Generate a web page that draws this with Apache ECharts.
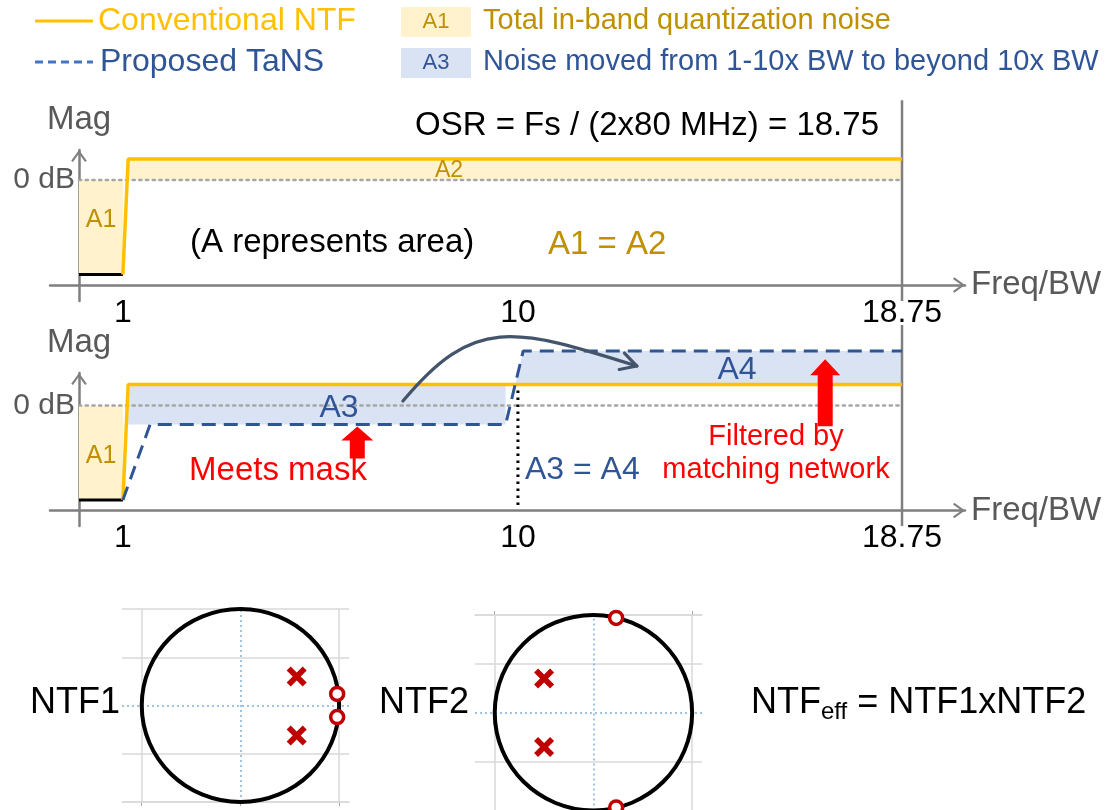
<!DOCTYPE html>
<html>
<head>
<meta charset="utf-8">
<script src="https://cdn.jsdelivr.net/npm/echarts@6/dist/echarts.min.js"></script>
<style>
html, body { margin: 0; padding: 0; background: #fff; }
#chart { width: 1110px; height: 810px; }
</style>
</head>
<body>
<div id="chart"></div>
<script>
// ---- frequency axis (frequency normalised to the signal bandwidth) ----
const freqTicks = [1, 10, 18.75];
const magTickValues = [5];
const magTickLabels = ['0 dB'];

// ---- magnitude levels in linear drawing units; the 0 dB line sits at 5 ----
const zeroDbLine = [[0, 5], [18.75, 5]];
const inBandNtf = [[0, 0.5], [1, 0.5]];
const conventionalNtf = [[1, 0.5], [1.12, 6], [18.75, 6]];
const proposedTans = [[1, 0.5], [1.62, 4.1], [9.72, 4.1], [10.12, 7.6], [18.75, 7.6]];
const fsEdgeTop = [[18.75, -0.76], [18.75, 8.8]];
const fsEdgeMid = [[18.75, -0.74], [18.75, 8.83]];
const tenBwMarker = [[10, 0.26], [10, 6]];

// ---- noise areas (polygon corners) ----
const areaA1 = [[0, 0.5], [0, 5], [1, 5], [1, 0.5]];
const areaA2 = [[1.12, 5], [1.12, 6], [18.75, 6], [18.75, 5]];
const areaA3 = [[1.12, 4.1], [1.12, 6], [9.72, 6], [9.72, 4.1]];
const areaA4 = [[9.94, 6], [10.12, 7.6], [18.75, 7.6], [18.75, 6]];

// ---- annotation arrows ----
const maskArrow = [6.34, 4.0];
const filterArrow = [17.0, 7.2];
const moveArrow = [[7.38, 5.21], [8.99, 9.25], [9.89, 8.74], [12.71, 6.88]]; // cubic: start, c1, c2, end

// ---- pole-zero maps ----
const unitCircle = [[0, 0, 1]];
const ntf1Zeros = [[0.98, 0.12], [0.98, -0.12]];
const ntf1Poles = [[0.57, 0.30], [0.57, -0.31]];
const ntf2Zeros = [[0.23, 0.97], [0.23, -0.97]];
const ntf2Poles = [[-0.50, 0.35], [-0.50, -0.35]];
const pzGridX = [-1, 1];
const pzGridY = [-1, -0.5, 0.5, 1];
const pzTicks1 = [-1, 0, 1];
const pzTicks2 = [-1, 1];

const FONT = '"Liberation Sans", Arial, Helvetica, sans-serif';
const AX = '#7F7F7F';
const YEL = '#FFC000', YEL_FILL = '#FFF2CC', GOLD = '#BF9000';
const BLUE = '#2F5597', BLUE_FILL = '#DAE3F3';
const RED = '#FF0000', PZ_RED = '#C00000';
const CHEVRON = 'path://M0,11 L8,0 L16,11 L14.2,12.3 L8,3.6 L1.8,12.3 Z';
const XMARK = 'path://M4,0 L10,6 L16,0 L20,4 L14,10 L20,16 L16,20 L10,14 L4,20 L0,16 L6,10 L0,4 Z';

function freqAxis(gridIndex) {
  return {
    type: 'value', gridIndex, min: -0.6607, max: 20.185,
    axisLine: { show: true, onZero: true, symbol: ['none', CHEVRON], symbolSize: [16, 12], symbolOffset: [0, -6],
      lineStyle: { color: AX, width: 2.5 } },
    axisTick: { show: false }, splitLine: { show: false },
    axisLabel: { customValues: freqTicks, formatter: v => String(v), color: '#000', fontSize: 32,
      fontFamily: FONT, margin: -4 },
    name: 'Freq/BW', nameLocation: 'end', nameGap: 6,
    nameTextStyle: { color: '#595959', fontSize: 33, fontFamily: FONT }
  };
}
function magAxis(gridIndex, min, max) {
  return {
    type: 'value', gridIndex, min, max,
    axisLine: { show: true, onZero: true, symbol: ['none', CHEVRON], symbolSize: [16, 12], symbolOffset: [0, -6],
      lineStyle: { color: AX, width: 2.5 } },
    axisTick: { show: false }, splitLine: { show: false },
    axisLabel: { customValues: magTickValues, formatter: v => magTickLabels[magTickValues.indexOf(v)] || '',
      color: '#595959', fontSize: 30, fontFamily: FONT, margin: -25 },
    name: 'Mag', nameLocation: 'end', nameGap: 14,
    nameTextStyle: { color: '#595959', fontSize: 33, fontFamily: FONT }
  };
}
function polySeries(points, color, axisIdx) {
  return {
    type: 'custom', xAxisIndex: axisIdx, yAxisIndex: axisIdx, silent: true, z: 1, clip: false,
    data: [points.flat()],
    encode: { x: points.map((p, i) => 2 * i), y: points.map((p, i) => 2 * i + 1) },
    renderItem(params, api) {
      const pts = points.map((p, i) => api.coord([api.value(2 * i), api.value(2 * i + 1)]));
      return { type: 'polygon', shape: { points: pts }, style: { fill: color, stroke: null } };
    }
  };
}
function lineSeries(data, axisIdx, lineStyle, z) {
  return { type: 'line', xAxisIndex: axisIdx, yAxisIndex: axisIdx, data, symbol: 'none', silent: true,
    clip: false, z, lineStyle };
}
function circleSeries(axisIdx) {
  return {
    type: 'custom', xAxisIndex: axisIdx, yAxisIndex: axisIdx, silent: true, z: 3, clip: false,
    data: unitCircle,
    renderItem(params, api) {
      const c = api.coord([api.value(0), api.value(1)]);
      const s = api.size([api.value(2), api.value(2)]);
      return { type: 'ellipse', shape: { cx: c[0], cy: c[1], rx: s[0], ry: s[1] },
        style: { fill: 'none', stroke: '#000', lineWidth: 4 } };
    }
  };
}
function pzGridLines() {
  const grey = { color: '#D9D9D9', width: 1.5, type: 'solid' };
  const dot = { color: '#7FB0DC', width: 1.5, type: [2, 3] };
  return {
    silent: true, symbol: ['none', 'none'], label: { show: false }, z: 1, animation: false,
    data: [
      ...pzGridX.map(v => ({ xAxis: v, lineStyle: grey })),
      ...pzGridY.map(v => ({ yAxis: v, lineStyle: grey })),
      { xAxis: 0, lineStyle: dot }, { yAxis: 0, lineStyle: dot }
    ]
  };
}
function zeroSeries(data, axisIdx) {
  return { type: 'scatter', xAxisIndex: axisIdx, yAxisIndex: axisIdx, data, silent: true, z: 5, clip: false,
    symbol: 'circle', symbolSize: 13,
    itemStyle: { color: '#fff', borderColor: PZ_RED, borderWidth: 3.5, opacity: 1 },
    markLine: pzGridLines() };
}
function poleSeries(data, axisIdx) {
  return { type: 'scatter', xAxisIndex: axisIdx, yAxisIndex: axisIdx, data, silent: true, z: 5, clip: false,
    symbol: XMARK, symbolSize: 20, itemStyle: { color: PZ_RED, opacity: 1 } };
}
function pzXAxis(gridIndex, position, ticks) {
  return { type: 'value', gridIndex, min: -1.2, max: 1.1, position,
    axisLine: { show: true, onZero: false, lineStyle: { color: '#D9D9D9', width: 1.5 } },
    axisTick: { show: true, customValues: ticks, length: 4, lineStyle: { color: '#A6A6A6', width: 1 } },
    axisLabel: { show: false }, splitLine: { show: false } };
}
function txt(text, x, y, size, color, align) {
  return { type: 'text', z: 100, silent: true,
    style: { text, x, y, fill: color, fontSize: size, fontFamily: FONT, align: align || 'left', verticalAlign: 'middle' } };
}

const dottedGrey = { color: '#A6A6A6', width: 2.5, type: [2.2, 4.5], cap: 'round' };
const edgeStyle = { color: AX, width: 2.5 };
const blackSolid = { color: '#000', width: 3 };
const yellowSolid = { color: YEL, width: 3.5 };
const blueDashed = { color: BLUE, width: 3, type: [14, 8] };

const option = {
  animation: false,
  textStyle: { fontFamily: FONT },
  grid: [
    { left: 50, top: 150, width: 915, height: 151, containLabel: false, outerBoundsMode: 'none' },
    { left: 50, top: 373, width: 915, height: 153, containLabel: false, outerBoundsMode: 'none' },
    { left: 122, top: 609, width: 227, height: 193, containLabel: false, outerBoundsMode: 'none' },
    { left: 475, top: 615, width: 227, height: 195.4, containLabel: false, outerBoundsMode: 'none' }
  ],
  xAxis: [freqAxis(0), freqAxis(1), pzXAxis(2, 'bottom', pzTicks1), pzXAxis(3, 'top', pzTicks2)],
  yAxis: [
    magAxis(0, -0.762, 6.43),
    magAxis(1, -0.738, 6.548),
    { type: 'value', gridIndex: 2, min: -1, max: 1, show: false },
    { type: 'value', gridIndex: 3, min: -1, max: 1, show: false }
  ],
  series: [
    // conventional NTF only
    polySeries(areaA1, YEL_FILL, 0),
    polySeries(areaA2, YEL_FILL, 0),
    lineSeries(zeroDbLine, 0, dottedGrey, 2),
    lineSeries(fsEdgeTop, 0, edgeStyle, 2),
    lineSeries(inBandNtf, 0, blackSolid, 3),
    lineSeries(conventionalNtf, 0, yellowSolid, 3),

    // conventional NTF vs proposed TaNS
    polySeries(areaA1, YEL_FILL, 1),
    polySeries(areaA3, BLUE_FILL, 1),
    polySeries(areaA4, BLUE_FILL, 1),
    lineSeries(zeroDbLine, 1, dottedGrey, 2),
    lineSeries(tenBwMarker, 1, { color: '#000', width: 3, type: [2.5, 4.5] }, 2),
    lineSeries(fsEdgeMid, 1, edgeStyle, 2),
    lineSeries(inBandNtf, 1, blackSolid, 3),
    lineSeries(conventionalNtf, 1, yellowSolid, 3),
    lineSeries(proposedTans, 1, blueDashed, 4),
    {
      type: 'custom', xAxisIndex: 1, yAxisIndex: 1, silent: true, z: 6, clip: false,
      data: [moveArrow.flat()],
      encode: { x: [0, 2, 4, 6], y: [1, 3, 5, 7] },
      renderItem(params, api) {
        const p = [0, 1, 2, 3].map(i => api.coord([api.value(2 * i), api.value(2 * i + 1)]));
        const dx = p[3][0] - p[2][0], dy = p[3][1] - p[2][1];
        const L = Math.hypot(dx, dy), ux = dx / L, uy = dy / L;
        const arm = 18, a = 0.5, c = Math.cos(a), s = Math.sin(a);
        const w1 = [p[3][0] - arm * (ux * c - uy * s), p[3][1] - arm * (uy * c + ux * s)];
        const w2 = [p[3][0] - arm * (ux * c + uy * s), p[3][1] - arm * (uy * c - ux * s)];
        const st = { fill: 'none', stroke: '#44546A', lineWidth: 3.2, lineCap: 'round', lineJoin: 'round' };
        return { type: 'group', children: [
          { type: 'bezierCurve', shape: { x1: p[0][0], y1: p[0][1], cpx1: p[1][0], cpy1: p[1][1],
            cpx2: p[2][0], cpy2: p[2][1], x2: p[3][0], y2: p[3][1] }, style: st },
          { type: 'polyline', shape: { points: [w1, p[3], w2] }, style: st }
        ] };
      }
    },
    {
      type: 'scatter', xAxisIndex: 1, yAxisIndex: 1, silent: true, z: 7, clip: false,
      itemStyle: { color: RED, opacity: 1 },
      data: [
        { value: maskArrow, symbol: 'path://M16,0 L32,14 L23.5,14 L23.5,32 L8.5,32 L8.5,14 L0,14 Z',
          symbolSize: [32, 32], symbolOffset: [0, '50%'] },
        { value: filterArrow, symbol: 'path://M15,0 L30,16 L22.5,16 L22.5,67 L7.5,67 L7.5,16 L0,16 Z',
          symbolSize: [30, 67], symbolOffset: [0, '50%'] }
      ]
    },

    // pole-zero maps
    circleSeries(2), zeroSeries(ntf1Zeros, 2), poleSeries(ntf1Poles, 2),
    circleSeries(3), zeroSeries(ntf2Zeros, 3), poleSeries(ntf2Poles, 3)
  ],
  graphic: [
    // key
    { type: 'line', z: 100, silent: true, shape: { x1: 35, y1: 21, x2: 93, y2: 21 }, style: { stroke: YEL, lineWidth: 3 } },
    { type: 'line', z: 100, silent: true, shape: { x1: 35, y1: 62, x2: 93, y2: 62 },
      style: { stroke: '#4472C4', lineWidth: 3, lineDash: [8, 5] } },
    txt('Conventional NTF', 98, 21, 32, YEL),
    txt('Proposed TaNS', 100, 62, 32, BLUE),
    { type: 'rect', z: 100, silent: true, shape: { x: 401, y: 7, width: 70, height: 30 }, style: { fill: YEL_FILL } },
    { type: 'rect', z: 100, silent: true, shape: { x: 401, y: 48, width: 70, height: 30 }, style: { fill: BLUE_FILL } },
    txt('A1', 436, 22, 22, GOLD, 'center'),
    txt('A3', 436, 63, 22, BLUE, 'center'),
    txt('Total in-band quantization noise', 483, 21, 29, GOLD),
    txt('Noise moved from 1-10x BW to beyond 10x BW', 483, 62, 29, BLUE),

    // top panel notes
    txt('OSR = Fs / (2x80 MHz) = 18.75', 415, 126, 33, '#000'),
    txt('A2', 449, 171, 23, GOLD, 'center'),
    txt('A1', 101, 220, 25, GOLD, 'center'),
    txt('(A represents area)', 190, 243, 33, '#000'),
    txt('A1 = A2', 548, 245, 33, GOLD),

    // middle panel notes
    txt('A1', 101, 456, 25, GOLD, 'center'),
    txt('A3', 339, 408, 32, BLUE, 'center'),
    txt('A4', 737, 370, 32, BLUE, 'center'),
    txt('Meets mask', 278, 471, 33, RED, 'center'),
    txt('Filtered by', 776, 437, 29, RED, 'center'),
    txt('matching network', 776, 470, 29, RED, 'center'),
    txt('A3 = A4', 525, 470, 32, BLUE),

    // pole-zero captions
    txt('NTF1', 30, 703, 36, '#000'),
    txt('NTF2', 379, 703, 36, '#000'),
    { type: 'text', z: 100, silent: true,
      style: { text: '{m|NTF}{s|eff}{m| = NTF1xNTF2}', x: 751, y: 703, verticalAlign: 'middle', align: 'left',
        rich: {
          m: { fontSize: 36, fontFamily: FONT, fill: '#000', lineHeight: 42 },
          s: { fontSize: 24, fontFamily: FONT, fill: '#000', lineHeight: 16, verticalAlign: 'bottom' }
        } } }
  ]
};

const chart = echarts.init(document.getElementById('chart'), null, { renderer: 'canvas' });
chart.setOption(option);
</script>
</body>
</html>
